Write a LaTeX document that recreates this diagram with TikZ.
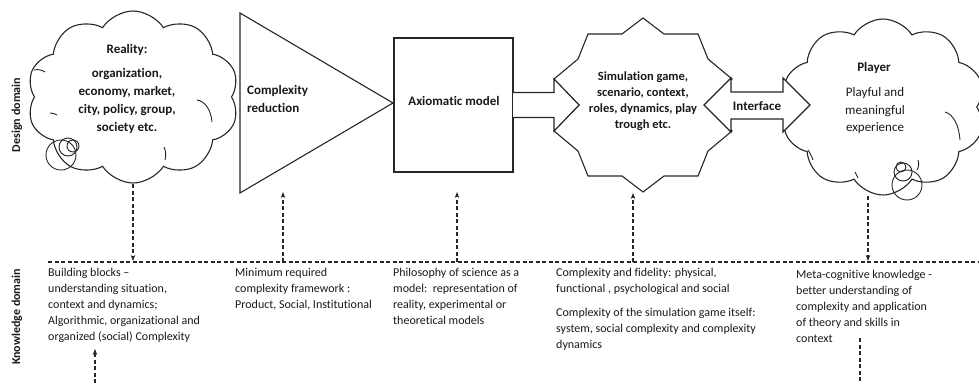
\documentclass[tikz,border=0pt]{standalone}
\usepackage{fontspec}
\setmainfont{Carlito}[Ligatures={TeX,NoCommon}]
\usetikzlibrary{shapes.symbols,arrows.meta}
\begin{document}
\begin{tikzpicture}[x=1pt,y=-1pt,
  shapeline/.style={draw=black!85, fill=white, line width=1.1pt, line join=miter},
  thin/.style={draw=black!85, line width=0.9pt},
  dashline/.style={draw=black!85, line width=1.1pt, dash pattern=on 4pt off 2.5pt},
  uptip/.style={-{Stealth[length=6pt,width=4.5pt]}},
  bigtxt/.style={font=\fontsize{13}{18}\selectfont\bfseries, inner sep=0, align=center, text=black!90},
  regtxt/.style={font=\fontsize{13}{17.5}\selectfont, inner sep=0, align=center, text=black!90},
  smalltxt/.style={font=\fontsize{12}{16}\selectfont, inner sep=0, align=left, anchor=north west, text=black!90},
  sidelbl/.style={rotate=90, font=\fontsize{12}{14}\selectfont\bfseries, inner sep=0, text=black!90},
  cloudbox/.style={cloud, cloud puffs=10, cloud puff arc=115, cloud ignores aspect, shapeline, inner sep=0}
]
\useasboundingbox (0,0) rectangle (979,383);

% side labels
\node[sidelbl] (dd) at (17,115) {Design domain};
\node[sidelbl] (kd) at (17,317) {Knowledge domain};

% Reality cloud
\node[cloudbox, minimum width=212pt, minimum height=172pt] (reality) at (133,97) {};
\draw[thin] (197,100) .. controls (205,101) and (211,110) .. (212,122);
\draw[thin] (164,147) .. controls (166,151) and (166,156) .. (165,160);
\draw[thin] (34,70) .. controls (38,69) and (42,70) .. (45,72);
\draw[thin] (50,113) .. controls (53,113) and (55,114) .. (57,115);
\draw[thin] (61,155) circle (15);
\draw[thin] (68,147) circle (9);
\draw[thin] (73,146) circle (6);
\node[bigtxt] (realt) at (127,50) {Reality:};
\node[bigtxt] (realb) at (127,101) {organization,\\economy, market,\\city, policy, group,\\society etc.};

% triangle
\draw[shapeline] (240,13) -- (393,103) -- (240,193) -- cycle;
\node[bigtxt, align=left, anchor=west] (cr) at (247,99) {Complexity\\reduction};

% axiomatic model box
\draw[shapeline] (394,38) rectangle (513,172);
\node[bigtxt] (ax) at (454,101) {Axiomatic model};

% star
\draw[shapeline] (643,18) -- (664,34) -- (698,34) -- (708,59) -- (732,79) -- (707,105)
  -- (732,131) -- (708,151) -- (698,176) -- (664,176) -- (643,192) -- (622,176)
  -- (588,176) -- (578,151) -- (554,131) -- (579,105) -- (554,79) -- (578,59)
  -- (588,34) -- (622,34) -- cycle;
% arrow box -> star
\draw[shapeline] (513,92.5) -- (554,92.5) -- (554,79) -- (579,105) -- (554,131) -- (554,117.5) -- (513,117.5);
\node[bigtxt, font=\fontsize{12.5}{15.8}\selectfont\bfseries] (sim) at (643,101) {Simulation game,\\scenario, context,\\roles, dynamics, play\\trough etc.};

% Player cloud
\node[cloudbox, minimum width=204pt, minimum height=176pt] (player) at (883,107) {};
\draw[thin] (945,112) .. controls (953,114) and (959,125) .. (960,140);
\draw[thin] (918,160) .. controls (919,163) and (919,167) .. (917,170);
\draw[thin] (808,150) .. controls (810,153) and (812,157) .. (813,160);
\draw[thin] (855,172) .. controls (856,174) and (857,176) .. (858,178);
\draw[thin] (907,185) circle (15);
\draw[thin] (903,172) circle (9);
\draw[thin] (901,167) circle (5);
\node[bigtxt] (pl) at (874,68) {Player};
\node[regtxt] (plb) at (875,111) {Playful and\\meaningful\\experience};

% interface double arrow
\draw[shapeline] (704,105) -- (731,78) -- (731,92) -- (783,92) -- (783,78) -- (810,105)
  -- (783,132) -- (783,119) -- (731,119) -- (731,132) -- cycle;
\node[bigtxt] (int) at (757,106) {Interface};

% knowledge line
\coordinate (hl) at (48,262);
\coordinate (hr) at (979,262);
\draw[dashline] (hl) -- (hr);

% dashed arrows
\coordinate (a1s) at (133,184);
\coordinate (a1e) at (133,261);
\draw[dashline, uptip] (a1s) -- (a1e);
\coordinate (a2s) at (283,262);
\coordinate (a2e) at (283,192);
\draw[dashline, uptip] (a2s) -- (a2e);
\coordinate (a3s) at (457,262);
\coordinate (a3e) at (457,192);
\draw[dashline, uptip] (a3s) -- (a3e);
\coordinate (a4s) at (633,262);
\coordinate (a4e) at (633,193);
\draw[dashline, uptip] (a4s) -- (a4e);
\coordinate (a5s) at (868,196);
\coordinate (a5e) at (868,261);
\draw[dashline, uptip] (a5s) -- (a5e);
\coordinate (a6s) at (95,383);
\coordinate (a6e) at (95,349);
\draw[dashline, uptip] (a6s) -- (a6e);
\coordinate (a7s) at (860,338);
\coordinate (a7e) at (860,383);
\draw[dashline] (a7s) -- (a7e);

% knowledge texts
\node[smalltxt] (k1) at (48,268) {Building blocks –\\understanding situation,\\context and dynamics;\\Algorithmic, organizational and\\organized (social) Complexity};
\node[smalltxt] (k2) at (235,268) {Minimum required\\complexity framework :\\Product, Social, Institutional};
\node[smalltxt] (k3) at (393,268) {Philosophy of science as a\\model:\ \ representation of\\reality, experimental or\\theoretical models};
\node[smalltxt] (k4) at (556,268) {Complexity and fidelity: physical,\\functional , psychological and social\\[8pt]Complexity of the simulation game itself:\\system, social complexity and complexity\\dynamics};
\node[smalltxt] (k5) at (796,270) {Meta-cognitive knowledge -\\better understanding of\\complexity and application\\of theory and skills in\\context};
\end{tikzpicture}
\end{document}
